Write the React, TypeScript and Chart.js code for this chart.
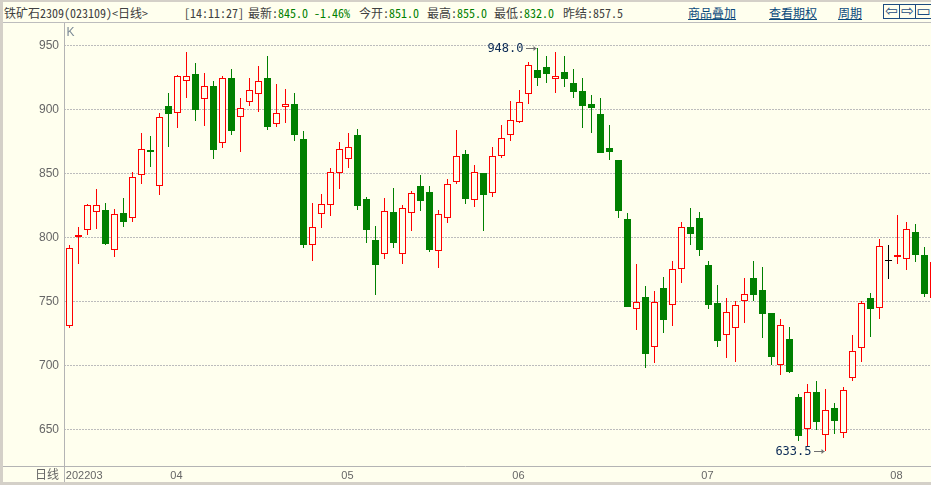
import React, { useEffect, useRef } from 'react';
import { Chart, registerables } from 'chart.js';

Chart.register(...registerables);

// ---- data ----
const opens = [
  731, 800, 805.5, 820, 821.5, 790, 819.5, 815, 849, 868,
  840, 903, 897, 922, 927.5, 908, 918, 873.5, 925, 894.5,
  905.5, 912.5, 925, 889, 902, 904, 877, 794.5, 818, 825,
  850, 861, 880, 830, 798, 787, 820, 787, 819.5, 840,
  835.5, 789.5, 815.5, 843.5, 865, 829.5, 850.5, 835, 864, 880,
  890, 912, 930.5, 933, 924, 929, 920.5, 914.5, 904, 896.5,
  870, 860.5, 814.5, 744.5, 753.5, 714.5, 760.5, 747.5, 775, 808,
  815, 778.5, 748.5, 724, 729.5, 750, 768.5, 759, 741, 700,
  720.5, 675, 650, 679, 645.5, 666.5, 647.5, 690, 713.5, 752.5,
  745, 782, 785, 783, 804, 786, 753,
];
const highs = [
  794, 808, 826.5, 838, 827, 822, 831, 851, 882, 879,
  897.5, 913, 927, 945, 936, 928.5, 922, 926, 932, 909,
  925, 934, 941.5, 920, 916, 913, 883, 827, 834, 854,
  875, 882, 884.5, 832, 809, 831, 839, 825, 836.5, 848.5,
  840, 821.5, 845.5, 884, 868, 856.5, 850.5, 870.5, 888, 907,
  915, 937, 948, 941.5, 945, 941.5, 931.5, 925, 911, 909,
  888, 860.5, 819.5, 779, 762, 758, 769, 782, 812, 823,
  820, 782, 763, 753, 750, 768, 782, 777, 741, 736,
  730, 677.5, 685.5, 688, 682, 670.5, 683, 723.5, 750, 756.5,
  799, 794, 817.5, 812, 810.5, 792.5, 784,
];
const lows = [
  729, 779, 802, 807, 794, 785, 808, 812, 842, 855,
  833, 871, 885.5, 909, 891, 887, 861.5, 870, 880, 867,
  903, 898, 884, 886.5, 889.5, 875.5, 792, 782, 807.5, 817,
  838, 854.5, 821.5, 796, 755, 783, 792, 779.5, 805, 821,
  789, 776, 811, 841.5, 826, 824, 805, 832, 862, 875.5,
  889.5, 904.5, 918.5, 921, 913, 917.5, 909, 885.5, 882, 866,
  860.5, 815.5, 745.5, 728, 698, 702, 725.5, 731, 764.5, 794,
  785.5, 744.5, 714.5, 706, 703, 733, 750, 721.5, 700.5, 692.5,
  694, 641, 637, 649.5, 633.5, 646.5, 643.5, 688, 703, 722.5,
  736.5, 767.5, 779.5, 774.5, 781, 753.5, 751,
];
const closes = [
  792, 802, 825, 825, 795, 818, 812, 847.5, 869.5, 867,
  894.5, 896.5, 926, 926.5, 900, 918, 868, 925, 883, 901.5,
  915, 922, 886.5, 897.5, 904, 880, 794, 808.5, 826.5, 851.5,
  869.5, 871, 824.5, 806, 778.5, 821, 796, 823, 834.5, 828.5,
  790, 818, 842, 863.5, 830, 851.5, 833.5, 863.5, 878, 892,
  905.5, 935, 924.5, 927.5, 926.5, 924, 914, 903, 901, 866,
  867, 821, 746, 749.5, 709, 749.5, 735.5, 775, 808.5, 803,
  790.5, 747.5, 719.5, 742, 747, 756, 755, 740.5, 707, 732,
  695, 645, 679, 656, 665.5, 657, 681, 711, 748.5, 744.5,
  793.5, 782, 786.5, 807, 786.5, 756, 780.5,
];
const yTickValues = [650, 700, 750, 800, 850, 900, 950];
const monthLabels = ['202203', '04', '05', '06', '07', '08'];
const monthStarts = [0, 12, 31, 50, 71, 92];

// ---- view / style ----
const BG = '#FFFFEE';
const UP = '#FF0000';
const DOWN = '#008000';
const FLAT = '#000000';
const X_MIN = -0.6111;
const X_MAX = 95.7222;
const Y_MIN = 621.48;
const Y_MAX = 967.58;

const dirColor = (i: number) =>
  closes[i] > opens[i] ? UP : closes[i] < opens[i] ? DOWN : FLAT;

// snap bar edges to whole pixels so thin outlines stay crisp
const snapPlugin = {
  id: 'snap',
  beforeDatasetsDraw(chart: any) {
    chart.data.datasets.forEach((_: any, di: number) => {
      const meta = chart.getDatasetMeta(di);
      meta.data.forEach((el: any) => {
        el.y = Math.round(el.y);
        el.base = Math.round(el.base);
      });
    });
  },
};

const framePlugin = {
  id: 'frame',
  afterDraw(chart: any) {
    const { ctx, chartArea, scales } = chart;
    const xs = scales.x;
    const ys = scales.y;
    ctx.save();
    ctx.strokeStyle = '#b4b4b4';
    ctx.lineWidth = 1;
    ctx.beginPath();
    ctx.moveTo(0, Math.round(chartArea.bottom) + 0.5);
    ctx.lineTo(chart.width, Math.round(chartArea.bottom) + 0.5);
    ctx.moveTo(Math.round(chartArea.left) + 0.5, 0);
    ctx.lineTo(Math.round(chartArea.left) + 0.5, chart.height);
    ctx.stroke();

    ctx.textBaseline = 'middle';
    ctx.fillStyle = '#7c8a96';
    ctx.font = '12px "Liberation Sans"';
    ctx.textAlign = 'left';
    ctx.fillText('K', chartArea.left + 2.5, 9.5);

    ctx.fillStyle = '#666666';
    ctx.font = '12px "Noto Sans CJK SC"';
    ctx.textAlign = 'right';
    ctx.fillText('日线', chartArea.left - 5, chartArea.bottom + 8.5);

    // max / min markers
    let hi = 0;
    let lo = 0;
    for (let i = 0; i < highs.length; i++) {
      if (xs.getPixelForValue(i) > chartArea.right) continue;
      if (highs[i] > highs[hi]) hi = i;
      if (lows[i] < lows[lo]) lo = i;
    }
    const mark = (i: number, v: number) => {
      const x = xs.getPixelForValue(i);
      const y = Math.round(ys.getPixelForValue(v)) + 0.5;
      ctx.strokeStyle = '#707070';
      ctx.fillStyle = '#707070';
      ctx.beginPath();
      ctx.moveTo(x - 11.5, y);
      ctx.lineTo(x - 1, y);
      ctx.stroke();
      ctx.beginPath();
      ctx.moveTo(x - 1, y);
      ctx.lineTo(x - 4, y - 2.5);
      ctx.lineTo(x - 4, y + 2.5);
      ctx.closePath();
      ctx.fill();
      ctx.fillStyle = '#0b2a55';
      ctx.font = '12px "DejaVu Sans Mono"';
      ctx.textAlign = 'right';
      ctx.textBaseline = 'middle';
      ctx.fillText(v.toFixed(1), x - 14, y);
    };
    mark(hi, highs[hi]);
    mark(lo, lows[lo]);
    ctx.restore();
  },
};

function KChart() {
  const ref = useRef<HTMLCanvasElement | null>(null);
  useEffect(() => {
    if (!ref.current) return;
    const idx = opens.map((_, i) => i);
    const chart = new Chart(ref.current, {
      type: 'bar',
      data: {
        datasets: [
          {
            data: idx.map((i) => ({ x: i, y: [opens[i], closes[i]] })) as any,
            order: 0,
            grouped: false,
            barThickness: 7,
            borderWidth: 1,
            borderSkipped: false,
            inflateAmount: 0,
            minBarLength: 1,
            backgroundColor: idx.map((i) => (closes[i] > opens[i] ? BG : dirColor(i))),
            borderColor: idx.map(dirColor),
          } as any,
          {
            data: idx.map((i) => ({ x: i, y: [lows[i], highs[i]] })) as any,
            order: 1,
            grouped: false,
            barThickness: 1,
            borderWidth: 0,
            borderSkipped: false,
            inflateAmount: 0,
            backgroundColor: idx.map(dirColor),
          } as any,
        ],
      },
      options: {
        responsive: false,
        animation: false,
        devicePixelRatio: 1,
        layout: { padding: 0, autoPadding: false },
        plugins: { legend: { display: false }, tooltip: { enabled: false } },
        scales: {
          x: {
            type: 'linear',
            offset: false,
            min: X_MIN,
            max: X_MAX,
            grid: { display: false, offset: false },
            border: { display: false },
            afterBuildTicks: (scale: any) => {
              scale.ticks = monthStarts.map((s) => ({ value: Math.max(s - 0.8, X_MIN + 0.2) }));
            },
            afterFit: (scale: any) => {
              scale.height = 16;
              scale.paddingLeft = 0;
              scale.paddingRight = 0;
            },
            ticks: {
              autoSkip: false,
              maxRotation: 0,
              minRotation: 0,
              align: 'start',
              padding: -5,
              color: '#666666',
              font: { family: 'Liberation Sans', size: 11 },
              callback: (_v: any, i: number) => monthLabels[i],
            },
          },
          y: {
            type: 'linear',
            min: Y_MIN,
            max: Y_MAX,
            grid: { color: '#bcbcbc', lineWidth: 1, drawTicks: false },
            border: { display: false, dash: [2, 1] },
            afterBuildTicks: (scale: any) => {
              scale.ticks = yTickValues.map((v) => ({ value: v }));
            },
            afterFit: (scale: any) => {
              scale.width = 64;
              scale.paddingTop = 0;
              scale.paddingBottom = 0;
            },
            ticks: {
              padding: 5,
              color: '#666666',
              font: { family: 'Liberation Sans', size: 12 },
            },
          },
        },
      } as any,
      plugins: [snapPlugin, framePlugin],
    });
    return () => chart.destroy();
  }, []);
  return (
    <canvas
      ref={ref}
      width={931}
      height={459}
      style={{ position: 'absolute', left: 0, top: 23, width: 931, height: 459 }}
    />
  );
}

const HDR_FONT = "'Noto Sans Mono CJK SC', 'DejaVu Sans Mono', monospace";
const GRAY = '#404040';
const GREEN = '#008000';
const LINK = '#0b4a7c';

function T(props: { left: number; color: string; children: any; underline?: boolean }) {
  return (
    <span
      style={{
        position: 'absolute',
        left: props.left,
        top: 5,
        fontFamily: HDR_FONT,
        fontSize: 12,
        lineHeight: '16px',
        color: props.color,
        whiteSpace: 'pre',
        textDecoration: props.underline ? 'underline' : 'none',
      }}
    >
      {props.children}
    </span>
  );
}

function IconBox(props: { left: number; glyph: string }) {
  return (
    <div
      style={{
        position: 'absolute',
        left: props.left,
        top: 4,
        width: 15,
        height: 13,
        border: '1px solid #1c4c80',
        color: '#1c4c80',
        fontFamily: "'DejaVu Sans'",
        fontSize: 15,
        lineHeight: '13px',
        textAlign: 'center',
        overflow: 'hidden',
      }}
    >
      {props.glyph}
    </div>
  );
}

export default function App() {
  return (
    <div
      style={{
        position: 'absolute',
        left: 0,
        top: 0,
        width: 931,
        height: 485,
        background: BG,
        overflow: 'hidden',
      }}
    >
      <KChart />
      {/* header */}
      <T left={4} color={GRAY}>铁矿石2309(023109)&lt;日线&gt;</T>
      <T left={184} color={GRAY}>[14:11:27]</T>
      <T left={248} color={GRAY}>最新:</T>
      <T left={278} color={GREEN}>845.0 -1.46%</T>
      <T left={359} color={GRAY}>今开:</T>
      <T left={389} color={GREEN}>851.0</T>
      <T left={427} color={GRAY}>最高:</T>
      <T left={457} color={GREEN}>855.0</T>
      <T left={494} color={GRAY}>最低:</T>
      <T left={524} color={GREEN}>832.0</T>
      <T left={563} color={GRAY}>昨结:857.5</T>
      <T left={688} color={LINK} underline>商品叠加</T>
      <T left={769} color={LINK} underline>查看期权</T>
      <T left={838} color={LINK} underline>周期</T>
      <IconBox left={883} glyph="⇦" />
      <IconBox left={899} glyph="⇨" />
      <IconBox left={915} glyph="▭" />
      {/* frame */}
      <div style={{ position: 'absolute', left: 0, top: 0, width: 931, height: 2, background: '#d4d0c8' }} />
      <div style={{ position: 'absolute', left: 0, top: 22, width: 931, height: 1, background: '#bdbdbd' }} />
      <div style={{ position: 'absolute', left: 0, top: 0, width: 3, height: 485, background: '#d4d0c8' }} />
      <div style={{ position: 'absolute', left: 0, top: 482, width: 931, height: 3, background: '#d4d0c8' }} />
    </div>
  );
}
